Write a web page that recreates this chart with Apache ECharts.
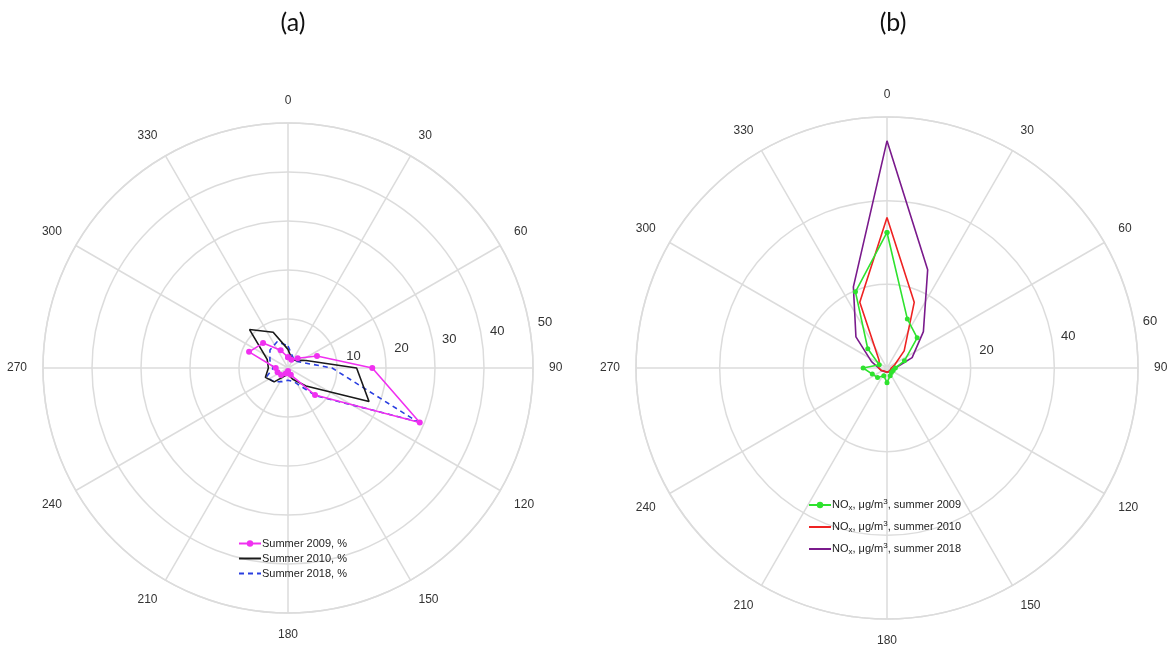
<!DOCTYPE html>
<html>
<head>
<meta charset="utf-8">
<script src="https://cdn.jsdelivr.net/npm/echarts@6/dist/echarts.min.js"></script>
<style>
html,body{margin:0;padding:0;background:#fff;}
#chart{width:1171px;height:648px;}
</style>
</head>
<body>
<div id="chart"></div>
<script>
// ---- data ----
const directions = [0, 22.5, 45, 67.5, 90, 112.5, 135, 157.5, 180, 202.5, 225, 247.5, 270, 292.5, 315, 337.5];
const angleTicks = [0, 30, 60, 90, 120, 150, 180, 210, 240, 270, 300, 330];
const leftRadiusTicks = [10, 20, 30, 40, 50];
const rightRadiusTicks = [20, 40, 60];

// (a) wind direction frequency, %
const summer2009 = [2.2, 1.8, 2.8, 6.4, 17.2, 29.1, 7.8, 1.5, 0.6, 1.2, 2.0, 2.3, 2.5, 8.6, 7.2, 3.9];
const summer2010 = [3.8, 2.0, 2.2, 4.0, 14.0, 17.9, 5.2, 2.5, 1.3, 1.8, 4.0, 5.0, 4.0, 4.6, 11.1, 7.9];
const summer2018 = [4.5, 2.5, 2.0, 3.0, 9.0, 28.5, 8.0, 3.0, 2.5, 3.0, 4.0, 4.8, 3.0, 4.0, 5.2, 5.8];

// (b) NOx concentration, ug/m3
const nox2009 = [32.4, 12.7, 10.2, 4.5, 2.0, 1.6, 1.5, 2.0, 3.5, 2.0, 3.2, 3.8, 5.7, 2.0, 6.5, 19.7];
const nox2010 = [36.0, 17.0, 5.8, 2.0, 1.0, 1.0, 1.0, 1.0, 1.0, 1.0, 1.0, 1.5, 2.0, 2.0, 2.7, 17.0];
const nox2018 = [54.3, 25.4, 12.3, 6.5, 2.0, 1.0, 1.0, 1.0, 1.0, 1.0, 1.0, 1.5, 2.0, 4.0, 10.5, 21.0];

// ---- helpers ----
function closed(vals) {
  const d = vals.map((v, i) => [v, directions[i]]);
  d.push([vals[0], 360]);
  return d;
}
const gridColor = '#dcdcdc';
const labelFont = 'Liberation Sans, Arial, sans-serif';

function angleAxis(idx) {
  return {
    polarIndex: idx, type: 'value', min: 0, max: 360, interval: 30,
    startAngle: 90, clockwise: true,
    axisLine: { show: true, lineStyle: { color: gridColor, width: 1.5 } },
    axisTick: { show: false },
    axisLabel: {
      margin: 16, color: '#333', fontSize: 12, fontFamily: labelFont,
      formatter: v => (angleTicks.indexOf(v) >= 0 ? String(v) : '')
    },
    splitLine: { show: true, lineStyle: { color: gridColor, width: 1.5 } }
  };
}
function radiusAxis(idx, max, interval) {
  return {
    polarIndex: idx, type: 'value', min: 0, max: max, interval: interval,
    axisLine: { show: false }, axisTick: { show: false }, axisLabel: { show: false },
    splitLine: { show: true, lineStyle: { color: gridColor, width: 1.5 } }
  };
}
function labelAngleAxis(idx) {
  return { polarIndex: idx, type: 'value', min: 0, max: 360, startAngle: 10, show: false };
}
function labelRadiusAxis(idx, max, interval, ticks) {
  return {
    polarIndex: idx, type: 'value', min: 0, max: max, interval: interval,
    axisLine: { show: false }, axisTick: { show: false }, splitLine: { show: false },
    axisLabel: {
      show: true, margin: 0, color: '#333', fontSize: 13, fontFamily: labelFont,
      align: 'center', verticalAlign: 'middle',
      formatter: v => (ticks.indexOf(v) >= 0 ? String(v) : '')
    }
  };
}

const rich = {
  a: { fontSize: 11, fontFamily: labelFont, color: '#222' },
  sub: { fontSize: 8, fontFamily: labelFont, color: '#222', verticalAlign: 'bottom', padding: [6, 0, 0, 0] },
  sup: { fontSize: 8, fontFamily: labelFont, color: '#222', verticalAlign: 'top', padding: [0, 0, 6, 0] }
};
function noxName(year) {
  return '{a|NO}{sub|x}{a|, \u03bcg/m}{sup|3}{a|, summer ' + year + '}';
}
const noSymbol = { opacity: 0 };

const option = {
  backgroundColor: '#fff',
  animation: false,
  title: [
    { text: '(a)', left: 288, top: 5, textAlign: 'center',
      textStyle: { fontSize: 25, fontWeight: 'normal', color: '#111', fontFamily: 'Lato, Open Sans, sans-serif' } },
    { text: '(b)', left: 888, top: 5, textAlign: 'center',
      textStyle: { fontSize: 25, fontWeight: 'normal', color: '#111', fontFamily: 'Lato, Open Sans, sans-serif' } }
  ],
  polar: [
    { center: [288, 368], radius: 245 },
    { center: [288, 368], radius: [18, 261] },
    { center: [887, 368], radius: 251 },
    { center: [887, 368], radius: [18, 267] }
  ],
  angleAxis: [angleAxis(0), labelAngleAxis(1), angleAxis(2), labelAngleAxis(3)],
  radiusAxis: [
    radiusAxis(0, 50, 10),
    labelRadiusAxis(1, 50, 10, leftRadiusTicks),
    radiusAxis(2, 60, 20),
    labelRadiusAxis(3, 60, 20, rightRadiusTicks)
  ],
  legend: [
    {
      data: [
        { name: 'Summer 2009, %' },
        { name: 'Summer 2010, %', itemStyle: noSymbol },
        { name: 'Summer 2018, %', itemStyle: noSymbol }
      ],
      orient: 'vertical', left: 233, top: 533, itemGap: 4, itemWidth: 22, itemHeight: 8,
      textStyle: { fontSize: 11, fontFamily: labelFont, color: '#222', padding: [0, 0, 0, -4] }
    },
    {
      data: [
        { name: 'NOx 2009' },
        { name: 'NOx 2010', itemStyle: noSymbol },
        { name: 'NOx 2018', itemStyle: noSymbol }
      ],
      orient: 'vertical', left: 803, top: 493, itemGap: 8, itemWidth: 22, itemHeight: 8,
      formatter: n => noxName(n.slice(4)),
      textStyle: { rich: rich, padding: [0, 0, 0, -4] }
    }
  ],
  series: [
    { name: 'Summer 2009, %', type: 'line', coordinateSystem: 'polar', polarIndex: 0,
      data: closed(summer2009), symbol: 'circle', symbolSize: 6, showSymbol: true,
      lineStyle: { color: '#f030f0', width: 1.6 }, itemStyle: { color: '#f030f0' }, z: 5 },
    { name: 'Summer 2010, %', type: 'line', coordinateSystem: 'polar', polarIndex: 0,
      data: closed(summer2010), symbol: 'none',
      lineStyle: { color: '#1a1a1a', width: 1.6 }, itemStyle: { color: '#1a1a1a' }, z: 4 },
    { name: 'Summer 2018, %', type: 'line', coordinateSystem: 'polar', polarIndex: 0,
      data: closed(summer2018), symbol: 'none',
      lineStyle: { color: '#2a3ee0', width: 1.6, type: [5, 4] }, itemStyle: { color: '#2a3ee0' }, z: 3 },
    { name: 'NOx 2009', type: 'line', coordinateSystem: 'polar', polarIndex: 2,
      data: closed(nox2009), symbol: 'circle', symbolSize: 5, showSymbol: true,
      lineStyle: { color: '#2ee22e', width: 1.6 }, itemStyle: { color: '#2ee22e' }, z: 5 },
    { name: 'NOx 2010', type: 'line', coordinateSystem: 'polar', polarIndex: 2,
      data: closed(nox2010), symbol: 'none',
      lineStyle: { color: '#ee2222', width: 1.6 }, itemStyle: { color: '#ee2222' }, z: 4 },
    { name: 'NOx 2018', type: 'line', coordinateSystem: 'polar', polarIndex: 2,
      data: closed(nox2018), symbol: 'none',
      lineStyle: { color: '#7a1a8c', width: 1.6 }, itemStyle: { color: '#7a1a8c' }, z: 3 }
  ]
};

const chart = echarts.init(document.getElementById('chart'), null, { renderer: 'canvas' });
chart.setOption(option);
</script>
</body>
</html>
